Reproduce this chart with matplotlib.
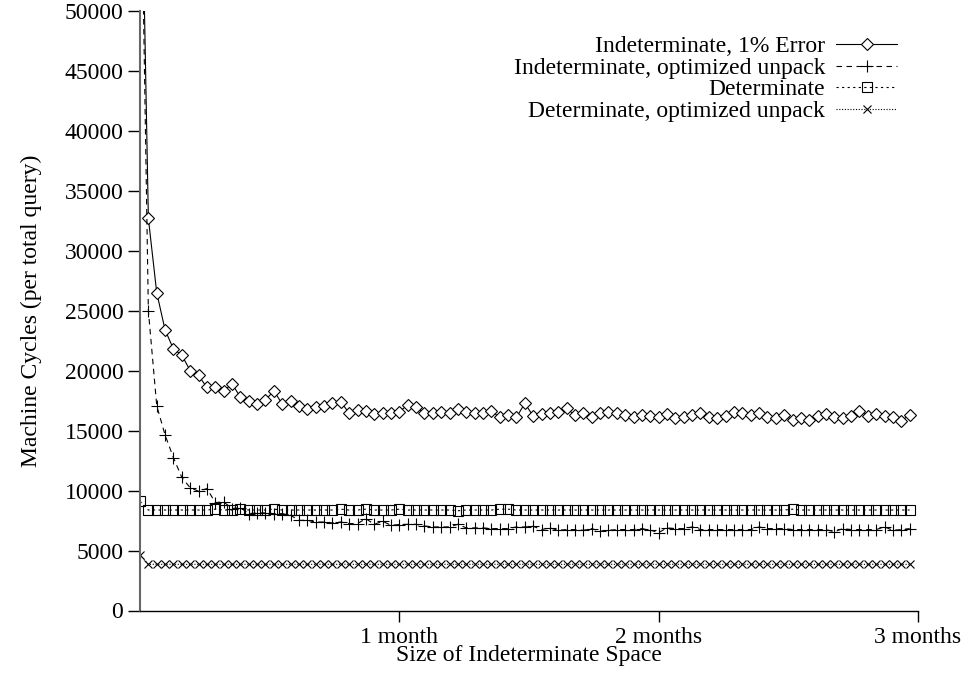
import numpy as np
import matplotlib
matplotlib.use("Agg")
import matplotlib.pyplot as plt

plt.rcParams['font.family'] = ['Liberation Serif', 'DejaVu Serif']

# one sample per day, 93 samples (0..92)
dias = np.arange(93)

# Indeterminate, 1% Error
indet_erro = [70000, 32700, 26500, 23400, 21800, 21300, 20000, 19600, 18600, 18600,
              18300, 18900, 17800, 17500, 17250, 17550, 18330, 17220, 17470, 17060,
              16780, 17000, 17060, 17310, 17420, 16450, 16700, 16610, 16420, 16450,
              16450, 16580, 17140, 17000, 16450, 16450, 16580, 16450, 16780, 16580,
              16450, 16500, 16640, 16110, 16300, 16110, 17280, 16220, 16360, 16450,
              16530, 16860, 16300, 16500, 16110, 16450, 16530, 16500, 16300, 16110,
              16300, 16220, 16170, 16390, 16030, 16170, 16300, 16500, 16170, 16030,
              16220, 16580, 16450, 16300, 16500, 16110, 16030, 16300, 15890, 16030,
              15890, 16220, 16390, 16170, 16030, 16220, 16670, 16220, 16360, 16220,
              16110, 15830, 16300]

# Indeterminate, optimized unpack
indet_otim = [68000, 25000, 17080, 14630, 12740, 11100, 10230, 9950, 10170, 9000,
              9060, 8500, 8590, 8080, 8140, 8140, 8080, 8080, 7940, 7520,
              7520, 7380, 7380, 7300, 7380, 7250, 7250, 7660, 7190, 7440,
              7110, 7170, 7190, 7190, 7050, 6970, 6970, 6970, 7190, 6890,
              6890, 6890, 6830, 6830, 6830, 6970, 6970, 7020, 6750, 6890,
              6690, 6750, 6750, 6690, 6830, 6610, 6690, 6750, 6750, 6750,
              6830, 6700, 6500, 6890, 6830, 6830, 6970, 6750, 6750, 6750,
              6750, 6750, 6750, 6750, 6970, 6830, 6830, 6830, 6750, 6750,
              6750, 6750, 6750, 6560, 6830, 6750, 6750, 6750, 6750, 6970,
              6690, 6750, 6830]

# Determinate
det = [9110, 8380, 8380, 8380, 8380, 8380, 8380, 8380, 8380, 8450,
       8380, 8380, 8450, 8380, 8380, 8380, 8450, 8380, 8380, 8380,
       8380, 8380, 8380, 8380, 8450, 8380, 8380, 8450, 8380, 8380,
       8380, 8450, 8380, 8380, 8380, 8380, 8380, 8380, 8320, 8380,
       8380, 8380, 8380, 8450, 8450, 8380, 8380, 8380, 8380, 8380,
       8380, 8380, 8380, 8380, 8380, 8380, 8380, 8380, 8380, 8380,
       8380, 8380, 8380, 8380, 8380, 8380, 8380, 8380, 8380, 8380,
       8380, 8380, 8380, 8380, 8380, 8380, 8380, 8380, 8450, 8380,
       8380, 8380, 8380, 8380, 8380, 8380, 8380, 8380, 8380, 8380,
       8380, 8380, 8380]

# Determinate, optimized unpack
det_otim = [4600] + [3850] * 92

meses_pos = [31, 62, 93]
meses_txt = ["1 month", "2 months", "3 months"]

fig = plt.figure(figsize=(9.66, 6.74), dpi=100)
ax = fig.add_axes([140/966, 1 - 610.5/674, (918 - 140)/966, (610.5 - 11)/674])

ax.plot(dias, indet_erro, 'k-', lw=0.8, marker='D', ms=6, mfc='white', mec='k', mew=0.8,
        label="Indeterminate, 1% Error")
ax.plot(dias, indet_otim, color='k', ls=(0, (5, 4)), lw=0.8, marker='+', ms=8, mew=0.8,
        label="Indeterminate, optimized unpack")
ax.plot(dias, det, color='k', ls=(0, (2, 3)), lw=0.8, marker='s', ms=6.5, mfc='none', mec='k', mew=0.8,
        label="Determinate")
ax.plot(dias, det_otim, color='k', ls=(0, (1, 1.5)), lw=0.8, marker='x', ms=6, mew=0.8,
        label="Determinate, optimized unpack")

ax.set_xlim(0, 93)
ax.set_ylim(0, 50000)
ax.set_xticks(meses_pos)
ax.set_xticklabels(meses_txt)
ax.set_yticks(np.arange(0, 50001, 5000))

for s in ['top', 'right']:
    ax.spines[s].set_visible(False)
ax.spines['left'].set_color('#666666')
ax.spines['left'].set_linewidth(1.5)
ax.spines['bottom'].set_linewidth(1.0)

ax.tick_params(axis='y', direction='out', length=9, width=1, pad=3, labelsize=17)
ax.tick_params(axis='x', direction='out', length=8, width=1, pad=4, labelsize=17)

ax.set_xlabel("Size of Indeterminate Space", fontsize=17, labelpad=-2)
ax.set_ylabel("Machine Cycles (per total query)", fontsize=17, labelpad=16)

ax.legend(loc='upper right', bbox_to_anchor=(909/966, 1 - 24/674), bbox_transform=fig.transFigure,
          frameon=False, markerfirst=False, fontsize=17, labelspacing=0.0, borderpad=0,
          handlelength=2.6, handletextpad=0.45)

fig.savefig("out.png", dpi=100)
